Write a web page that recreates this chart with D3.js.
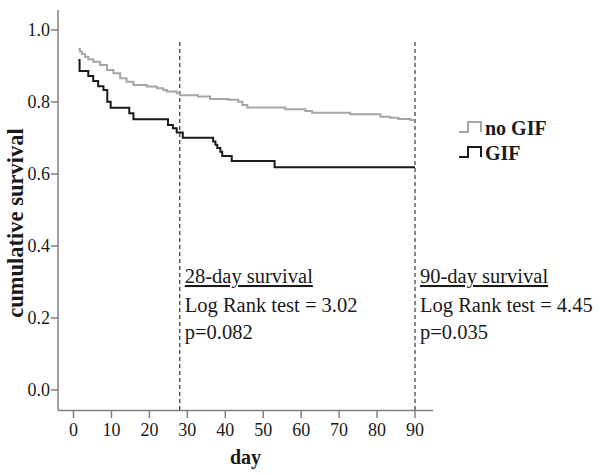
<!DOCTYPE html>
<html><head><meta charset="utf-8">
<script src="https://cdn.jsdelivr.net/npm/d3@7"></script>
<style>
body{margin:0;background:#fff;}
text{font-family:"Liberation Serif","Times New Roman",serif;}
</style></head>
<body>
<svg id="c" width="600" height="475"></svg>
<script>
// ---- data ----
const xTicks = [0,10,20,30,40,50,60,70,80,90];
const yTicks = [0.0,0.2,0.4,0.6,0.8,1.0];
const noGifDays = [1.3,1.7,2.2,3.0,3.9,5.2,7.0,8.8,10.5,12.3,14.0,15.8,19.3,22.0,23.7,24.6,27.2,28.1,32.8,36.0,40.8,43.4,44.5,45.8,55.8,61.1,62.9,72.9,80.9,83.5,85.6,88.8,90];
const noGifSurv = [0.947,0.940,0.933,0.926,0.919,0.912,0.903,0.889,0.880,0.866,0.856,0.847,0.843,0.838,0.833,0.829,0.824,0.819,0.815,0.808,0.806,0.801,0.792,0.785,0.780,0.775,0.770,0.766,0.759,0.756,0.753,0.750,0.750];
const gifDays = [1.3,1.6,3.9,5.2,6.5,7.9,8.9,9.8,14.7,15.8,24.9,26.2,27.2,28.8,36.8,37.4,37.9,38.7,39.2,41.7,53.0,90];
const gifSurv = [0.917,0.886,0.872,0.858,0.844,0.833,0.801,0.784,0.769,0.752,0.736,0.727,0.715,0.701,0.690,0.681,0.672,0.662,0.650,0.636,0.619,0.619];
const seriesNames = ["no GIF","GIF"];
const cutDays = [28,90];
const annoTitles = ["28-day survival","90-day survival"];
const annoTests = ["Log Rank test = 3.02","Log Rank test = 4.45"];
const annoP = ["p=0.082","p=0.035"];

// ---- layout ----
const svg = d3.select("#c");
const x = d3.scaleLinear().domain([0,90]).range([73.5,415]);
const y = d3.scaleLinear().domain([0,1]).range([390,30]);
const axisCol = "#808080";
const colors = ["#a6a6a6","#1a1a1a"];

function txt(g, s, px, py, opt={}){
  const t = g.append("text").text(s)
    .attr("transform", `translate(${px},${py})` + (opt.rot?` rotate(${opt.rot})`:""))
    .attr("font-size", opt.size||16)
    .attr("font-weight", opt.bold?"bold":"normal")
    .attr("text-anchor", opt.anchor||"start")
    .attr("fill", "#1a1a1a");
  if(opt.dy) t.attr("dy", opt.dy);
  return t;
}

// axes lines
svg.append("line").attr("x1",58).attr("x2",58).attr("y1",10).attr("y2",410.5).attr("stroke",axisCol).attr("stroke-width",1.5);
svg.append("line").attr("x1",58).attr("x2",433).attr("y1",410.5).attr("y2",410.5).attr("stroke",axisCol).attr("stroke-width",1.5);

// y ticks
const gy = svg.append("g");
yTicks.forEach(v=>{
  gy.append("line").attr("x1",51).attr("x2",58).attr("y1",y(v)).attr("y2",y(v)).attr("stroke",axisCol).attr("stroke-width",1.5);
  txt(gy, d3.format(".1f")(v), 50, y(v), {size:18, anchor:"end", dy:"0.34em"});
});
// x ticks
const gx = svg.append("g");
xTicks.forEach(v=>{
  gx.append("line").attr("x1",x(v)).attr("x2",x(v)).attr("y1",410.5).attr("y2",418).attr("stroke",axisCol).attr("stroke-width",1.5);
  txt(gx, String(v), x(v), 436, {size:18, anchor:"middle"});
});
// axis titles
txt(svg, "day", 245.5, 464, {size:20, bold:true, anchor:"middle"});
txt(svg, "cumulative survival", 23, 223, {size:22.5, bold:true, anchor:"middle", rot:-90});

// dashed reference lines
cutDays.forEach(d=>{
  svg.append("line").attr("x1",x(d)).attr("x2",x(d)).attr("y1",42).attr("y2",410).attr("stroke","#333").attr("stroke-width",1.2).attr("stroke-dasharray","4,3");
});

// curves
const line = d3.line().x(d=>x(d[0])).y(d=>y(d[1])).curve(d3.curveStepAfter);
const series = [d3.zip(noGifDays,noGifSurv), d3.zip(gifDays,gifSurv)];
series.forEach((s,i)=>{
  svg.append("path").attr("d",line(s)).attr("fill","none").attr("stroke",colors[i]).attr("stroke-width",2);
});

// legend
const legY = [132,157];
seriesNames.forEach((n,i)=>{
  const ly = legY[i];
  svg.append("path").attr("d",`M459,${ly}H468V${ly-10}H481V${ly}`).attr("fill","none").attr("stroke",colors[i]).attr("stroke-width",2);
  txt(svg, n, 485, ly+3, {size:20, bold:true});
});

// annotations
cutDays.forEach((d,i)=>{
  const ax = x(d)+5;
  const t = txt(svg, annoTitles[i], ax, 283, {size:20.5});
  t.attr("text-decoration","underline");
  txt(svg, annoTests[i], ax, 312, {size:20.5});
  txt(svg, annoP[i], ax, 339, {size:20.5});
});
</script>
</body></html>
